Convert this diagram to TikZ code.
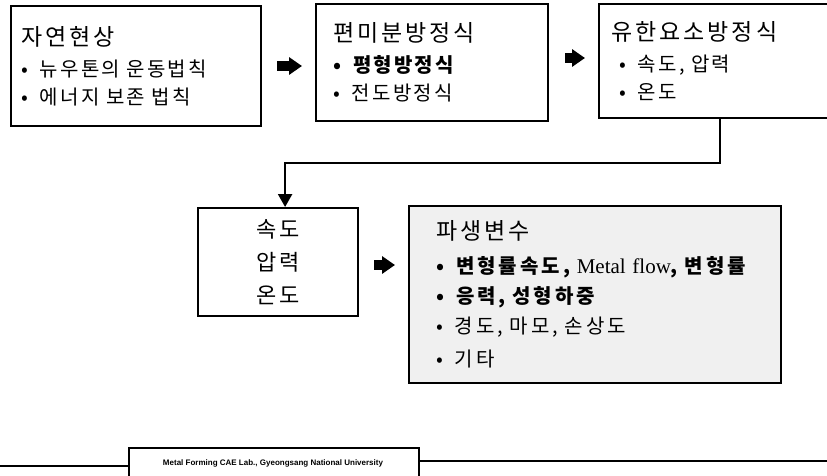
\documentclass[tikz,border=0pt]{standalone}
\usepackage{fontspec}
\setmainfont{Noto Sans CJK KR}
\newfontfamily\labfont{Liberation Sans}
\newfontfamily\latinfont{Liberation Serif}
\usetikzlibrary{arrows.meta}

\newcommand{\boxtext}{\fontsize{20}{28}\selectfont\addfontfeatures{LetterSpace=11}}
\newcommand{\boxtitle}{\fontsize{23}{28}\selectfont\addfontfeatures{LetterSpace=13}}
\newcommand{\itm}{•\hspace{12pt}}

\tikzset{
  stage/.style={draw, line width=2.2pt, anchor=north west, align=left, inner sep=7pt, font=\boxtext},
  fat/.style={arrows={-{Triangle[length=13pt,width=17pt]}}, line width=10pt},
  flow/.style={arrows={-{Triangle[length=13pt,width=14pt]}}, line width=2.4pt}
}

\begin{document}
\begin{tikzpicture}[x=1pt, y=-1pt]
\useasboundingbox (0,0) rectangle (827,475);

\node[stage, inner xsep=10pt, minimum width=250pt, minimum height=120pt, text width=230pt] at (10,5) (nature)
  {{\boxtitle 자연현상}\\[3pt] \itm 뉴우톤의 운동법칙\\ \itm 에너지 보존 법칙};
\node[stage, inner xsep=17pt, minimum width=232pt, minimum height=117pt, text width=198pt] at (315,3) (pde)
  {{\boxtitle 편미분방정식}\\[3pt] {\bfseries\itm 평형방정식}\\ \itm 전도방정식};
\node[stage, inner xsep=12pt, minimum width=240pt, minimum height=114pt, text width=216pt] at (598,3) (fem)
  {{\boxtitle 유한요소방정식}\\[3pt] \hspace{8pt}\itm 속도, 압력\\ \hspace{8pt}\itm 온도};
\node[stage, align=center, font=\fontsize{22}{33}\selectfont\addfontfeatures{LetterSpace=12},
  minimum width=160pt, minimum height=108pt, text width=146pt] at (197,207) (state)
  {속도\\ 압력\\ 온도};
\node[stage, inner xsep=27pt, fill=gray!12, font=\fontsize{20}{30}\selectfont\addfontfeatures{LetterSpace=15},
  minimum width=372pt, minimum height=177pt, text width=318pt] at (408,205) (deriv)
  {{\boxtitle 파생변수}\\[4pt]
   {\bfseries\itm 변형률속도, {\mdseries\latinfont\fontsize{21}{30}\selectfont Metal flow}, 변형률}\\
   {\bfseries\itm 응력, 성형하중}\\
   \itm 경도, 마모, 손상도\\[3pt]
   \itm 기타};

%footer
\node[draw, line width=1.6pt, anchor=north west, minimum width=290pt, minimum height=40pt] at (128,447) (lab) {};
\node[font=\labfont\bfseries\fontsize{8}{10}\selectfont] at (273,463) (labname)
  {Metal Forming CAE Lab., Gyeongsang National University};
\coordinate (lend) at (0,466);
\coordinate (rend) at (827,461);
\draw[line width=1.6pt] (lend) -- (lend -| lab.west);
\draw[line width=1.6pt] (rend -| lab.east) -- (rend);

\draw[fat, shorten <=15pt, shorten >=13pt] (nature.east |- 0,66) -- (pde.west |- 0,66);
\draw[fat, shorten <=16pt, shorten >=13pt] (pde.east |- 0,58) -- (fem.west |- 0,58);
\draw[fat, shorten <=15pt, shorten >=13pt] (state.east |- 0,265) -- (deriv.west |- 0,265);

%fem -> state
\draw[flow] (fem.south -| 720,0) -- (720,163) -| ([xshift=7pt]state.north);
\end{tikzpicture}
\end{document}
